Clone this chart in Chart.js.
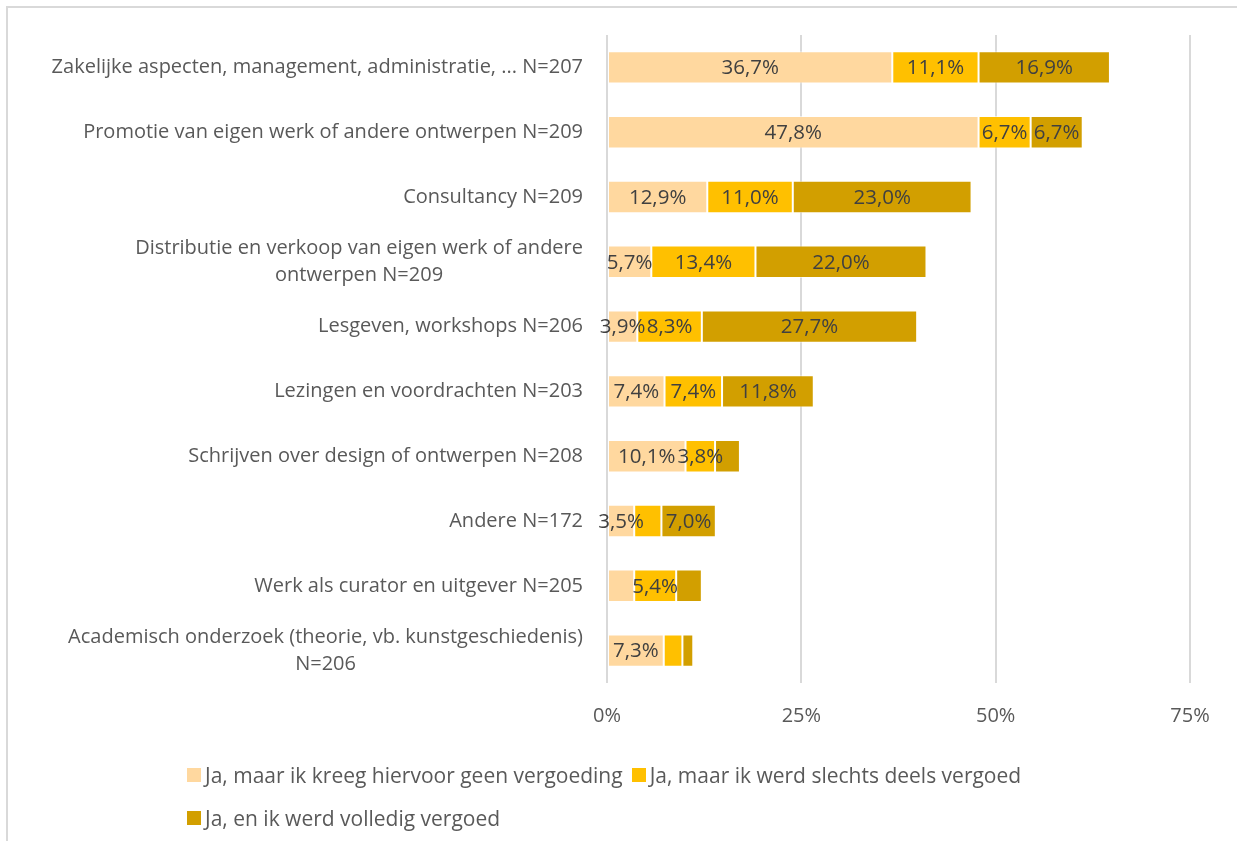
<!DOCTYPE html>
<html>
<head>
<meta charset="utf-8">
<script src="https://cdn.jsdelivr.net/npm/chart.js@4/dist/chart.umd.min.js"></script>
<style>
  html, body { margin: 0; padding: 0; background: #fff; }
  #wrap { position: relative; width: 1237px; height: 841px; overflow: hidden; }
  #frame { position: absolute; left: 6px; top: 6px; width: 1300px; height: 900px;
           border-left: 2px solid #D9D9D9; border-top: 2px solid #D9D9D9; box-sizing: border-box; }
  #chart { position: absolute; left: 0; top: 0; }
  #legend { position: absolute; left: 187px; top: 753px; width: 1040px;
            font-family: "Open Sans", Lato, sans-serif; font-size: 21px; color: #595959; }
  .row { display: flex; height: 43px; align-items: center; }
  .item { display: flex; align-items: center; margin-right: 9px; }
  .sw { width: 14px; height: 14px; margin-right: 4px; }
</style>
</head>
<body>
<div id="wrap">
  <div id="frame"></div>
  <canvas id="chart" width="1237" height="841"></canvas>
  <div id="legend"></div>
</div>
<script>
// Activities (with respondent counts)
const categories = [
  ["Zakelijke aspecten, management, administratie, ... N=207"],
  ["Promotie van eigen werk of andere ontwerpen N=209"],
  ["Consultancy N=209"],
  ["Distributie en verkoop van eigen werk of andere", "ontwerpen N=209"],
  ["Lesgeven, workshops N=206"],
  ["Lezingen en voordrachten N=203"],
  ["Schrijven over design of ontwerpen N=208"],
  ["Andere N=172"],
  ["Werk als curator en uitgever N=205"],
  ["Academisch onderzoek (theorie, vb. kunstgeschiedenis)", "N=206"]
];

const seriesNames = [
  "Ja, maar ik kreeg hiervoor geen vergoeding",
  "Ja, maar ik werd slechts deels vergoed",
  "Ja, en ik werd volledig vergoed"
];

// Percentages per series
const geenVergoeding  = [36.7, 47.8, 12.9, 5.7, 3.9, 7.4, 10.1, 3.5, 3.5, 7.3];
const deelsVergoed    = [11.1, 6.7, 11.0, 13.4, 8.3, 7.4, 3.8, 3.5, 5.4, 2.4];
const volledigVergoed = [16.9, 6.7, 23.0, 22.0, 27.7, 11.8, 3.2, 7.0, 3.3, 1.4];

// Which segments carry a value label
const labelGeen     = [true, true, true, true, true, true, true, true, false, true];
const labelDeels    = [true, true, true, true, true, true, true, false, true, false];
const labelVolledig = [true, true, true, true, true, true, false, true, false, false];

const xTicks = [0, 25, 50, 75];

const colors = ["#FFD89F", "#FFC000", "#D29F00"];
const FONT = '"Open Sans", Lato, sans-serif';
const TEXT = "#595959";

const fmt = v => v.toFixed(1).replace(".", ",") + "%";

// Category labels: block right-aligned, lines centred within the block
const categoryLabels = {
  id: "categoryLabels",
  afterDraw(chart) {
    const ctx = chart.ctx, y = chart.scales.y;
    const right = chart.chartArea.left - 24;
    const lh = 27;
    ctx.save();
    ctx.font = "20px " + FONT;
    ctx.fillStyle = TEXT;
    ctx.textAlign = "center";
    ctx.textBaseline = "middle";
    categories.forEach((lines, i) => {
      const cy = y.getPixelForValue(i);
      const w = Math.max(...lines.map(l => ctx.measureText(l).width));
      const cx = right - w / 2;
      const top = cy - (lines.length - 1) * lh / 2;
      lines.forEach((l, k) => ctx.fillText(l, cx, top + k * lh));
    });
    ctx.restore();
  }
};

// Value labels centred in each segment
const valueLabels = {
  id: "valueLabels",
  afterDatasetsDraw(chart) {
    const ctx = chart.ctx;
    ctx.save();
    ctx.font = "20.5px " + FONT;
    ctx.fillStyle = "#404040";
    ctx.textAlign = "center";
    ctx.textBaseline = "middle";
    chart.data.datasets.forEach((ds, di) => {
      const meta = chart.getDatasetMeta(di);
      meta.data.forEach((bar, i) => {
        if (!ds.showLabel[i]) return;
        const p = bar.getProps(["x", "y", "base"], true);
        ctx.fillText(fmt(ds.data[i]), (p.x + p.base) / 2, p.y + 1);
      });
    });
    ctx.restore();
  }
};

const mk = (name, data, show, color) => ({
  label: name, data, showLabel: show,
  backgroundColor: color,
  borderColor: "rgba(255,255,255,0.55)",
  borderWidth: 1,
  borderSkipped: false,
  barPercentage: 0.5,
  categoryPercentage: 1
});

new Chart(document.getElementById("chart"), {
  type: "bar",
  data: {
    labels: categories.map(c => c.join(" ")),
    datasets: [
      mk(seriesNames[0], geenVergoeding, labelGeen, colors[0]),
      mk(seriesNames[1], deelsVergoed, labelDeels, colors[1]),
      mk(seriesNames[2], volledigVergoed, labelVolledig, colors[2])
    ]
  },
  options: {
    indexAxis: "y",
    responsive: false,
    animation: false,
    layout: { padding: { top: 35, right: 47, bottom: 0, left: 0 } },
    plugins: { legend: { display: false }, tooltip: { enabled: false } },
    scales: {
      x: {
        stacked: true,
        min: 0, max: 75,
        afterBuildTicks(scale) { scale.ticks = xTicks.map(v => ({ value: v })); },
        afterFit(scale) { scale.height = 158; },
        grid: { color: "#D9D9D9", lineWidth: 2, drawTicks: false },
        border: { display: false },
        ticks: {
          padding: 21,
          color: TEXT,
          font: { family: FONT, size: 20 },
          callback: v => v + "%"
        }
      },
      y: {
        stacked: true,
        afterFit(scale) { scale.width = 607; },
        grid: { display: false },
        border: { display: false },
        ticks: { display: false }
      }
    }
  },
  plugins: [categoryLabels, valueLabels]
});

// Legend: first two series on one row, third on the next
const legend = document.getElementById("legend");
[[0, 1], [2]].forEach(idxs => {
  const row = document.createElement("div");
  row.className = "row";
  idxs.forEach(i => {
    const it = document.createElement("div");
    it.className = "item";
    const sw = document.createElement("div");
    sw.className = "sw";
    sw.style.background = colors[i];
    const tx = document.createElement("span");
    tx.textContent = seriesNames[i];
    it.appendChild(sw); it.appendChild(tx);
    row.appendChild(it);
  });
  legend.appendChild(row);
});
</script>
</body>
</html>
